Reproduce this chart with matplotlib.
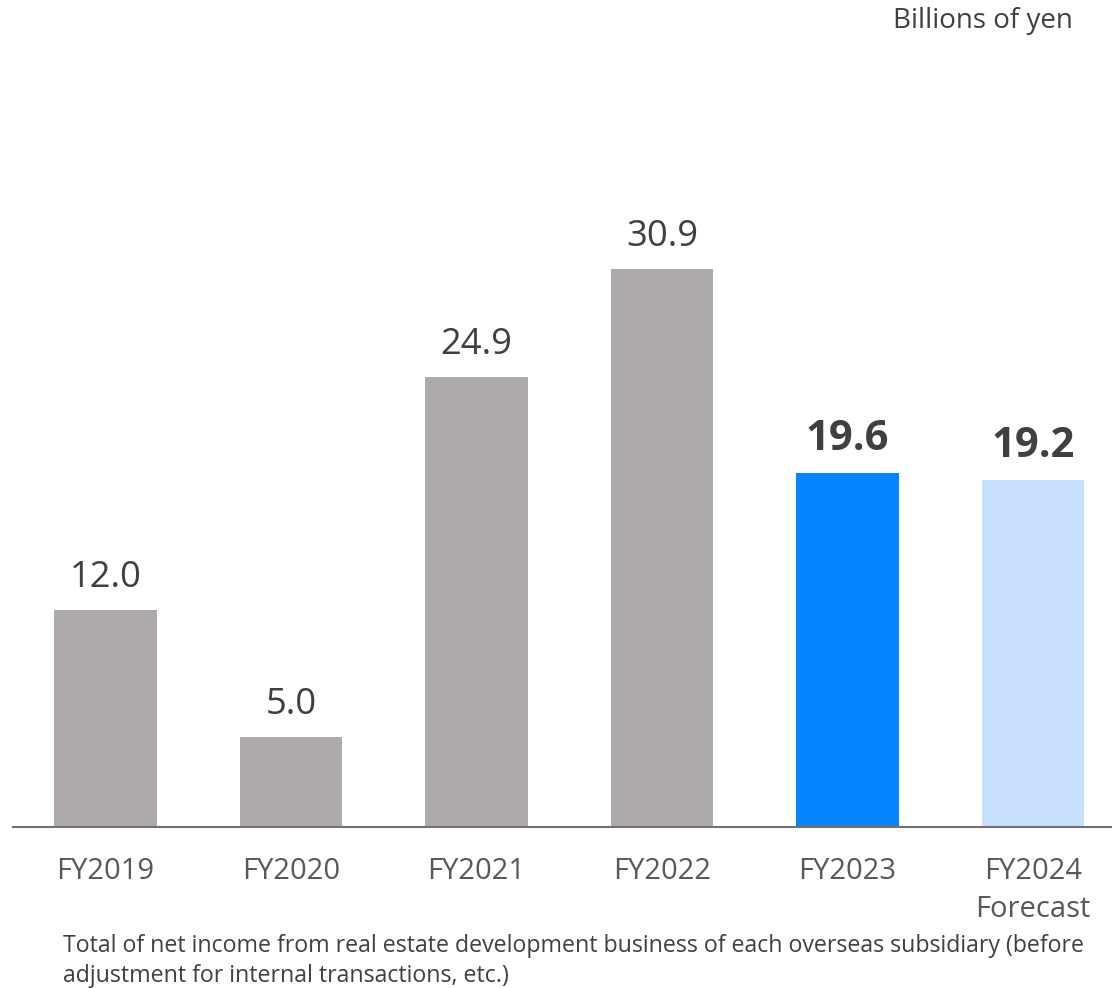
import matplotlib
matplotlib.use("Agg")
import matplotlib.pyplot as plt

plt.rcParams['font.family'] = ['Open Sans', 'DejaVu Sans']

# Data (billions of yen)
categories = ["FY2019", "FY2020", "FY2021", "FY2022", "FY2023", "FY2024\nForecast"]
values = [12.0, 5.0, 24.9, 30.9, 19.6, 19.2]
value_labels = ["12.0", "5.0", "24.9", "30.9", "19.6", "19.2"]
bold_flags = [False, False, False, False, True, True]
bar_colors = ["#AEAAAA", "#AEAAAA", "#AEAAAA", "#AEAAAA", "#0684FE", "#C6E0FC"]
unit_label = "Billions of yen"
footnote_lines = [
    "Total of net income from real estate development business of each overseas subsidiary (before",
    "adjustment for internal transactions, etc.)",
]

W, H, DPI = 1112, 988, 100
fig = plt.figure(figsize=(W / DPI, H / DPI), dpi=DPI)

# axes placement in pixels
ax_left, ax_right = 13, 1112
ax_bottom = 827          # baseline, from top
ax_top = 195
ax = fig.add_axes([ax_left / W, 1 - ax_bottom / H,
                   (ax_right - ax_left) / W, (ax_bottom - ax_top) / H])

x = list(range(len(categories)))
ax.bar(x, values, width=0.555, color=bar_colors, zorder=2)

ax.set_xlim(-0.4987, 5.426)
ax.set_ylim(0, 35)

for xi, v, lab, b in zip(x, values, value_labels, bold_flags):
    ax.annotate(lab, (xi, v), xytext=(0, 23), textcoords="offset pixels",
                ha="center", va="baseline",
                fontsize=30 if b else 26.2,
                fontweight="bold" if b else "normal",
                color="#404040")

for s in ["left", "right", "top"]:
    ax.spines[s].set_visible(False)
ax.spines["bottom"].set_color("#767171")
ax.spines["bottom"].set_linewidth(1.5)
ax.spines["bottom"].set_zorder(3)

ax.set_yticks([])
ax.set_xticks(x)
ax.set_xticklabels(categories, fontsize=21, color="#595959", linespacing=1.4)
ax.tick_params(axis="x", length=0, pad=21.8)

fig.text(1073 / W, 1 - 28 / H, unit_label, ha="right", va="baseline",
         fontsize=20, color="#404040")

for i, line in enumerate(footnote_lines):
    fig.text(63 / W, 1 - (952 + 30 * i) / H, line, ha="left", va="baseline",
             fontsize=16.7, color="#404040")

fig.savefig("out.png", dpi=DPI)
